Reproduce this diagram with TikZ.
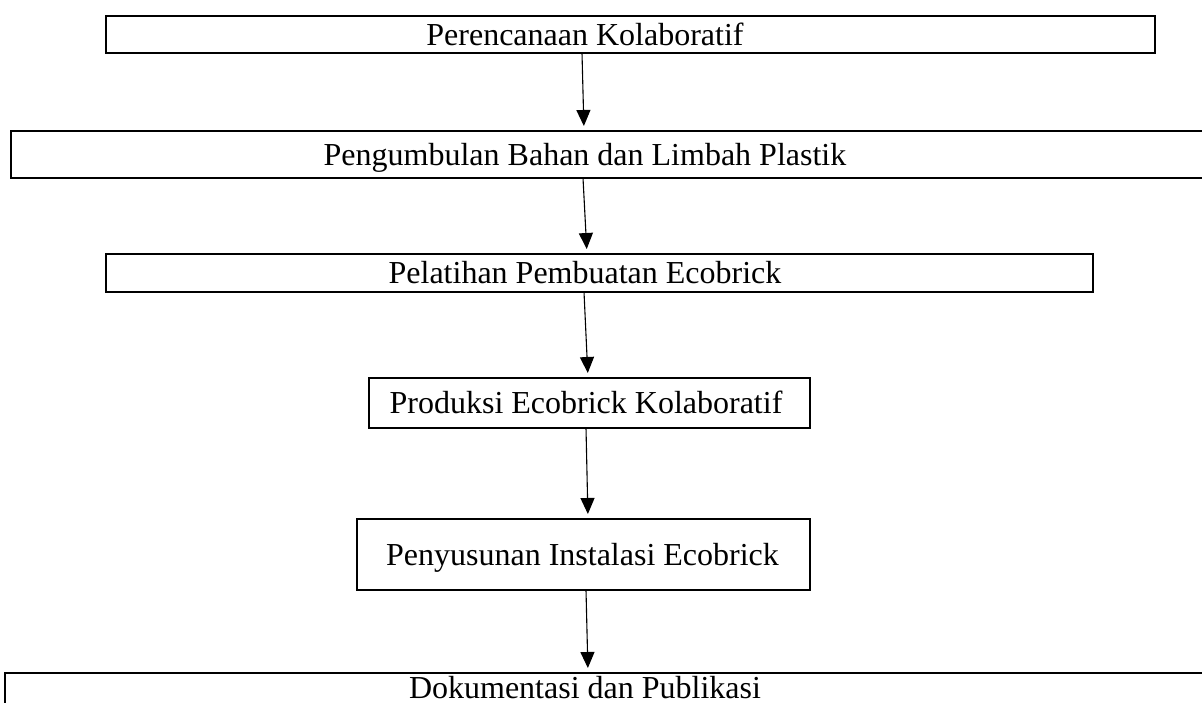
\documentclass[tikz,border=0pt]{standalone}
\usepackage{fontspec}
\setmainfont{Liberation Serif}
\usetikzlibrary{arrows.meta,calc}
\begin{document}
\begin{tikzpicture}[x=1pt,y=-1pt,
  thickbox/.style={draw,line width=2.8pt,inner sep=0pt,outer sep=0pt},
  thinbox/.style={draw,line width=1.4pt,inner sep=0pt,outer sep=0pt},
  lbl/.style={inner sep=0pt,anchor=base,font=\fontsize{32}{38}\selectfont},
  arr/.style={line width=1.1pt,-{Triangle[length=16pt,width=14pt]},shorten >=5pt}]
\useasboundingbox (0,0) rectangle (1202,702);
\fill[white] (0,0) rectangle (1202,702);
% boxes
\node[thickbox,minimum width=1049pt,minimum height=37pt] (b1) at (630.5,34.5) {};
\node[thickbox,minimum width=1199pt,minimum height=47pt] (b2) at (610.5,154.5) {};
\node[thickbox,minimum width=987pt,minimum height=38pt] (b3) at (599.5,273) {};
\node[thinbox,minimum width=441pt,minimum height=50pt] (b4) at (589.5,403) {};
\node[thinbox,minimum width=453pt,minimum height=71pt] (b5) at (583.5,554.5) {};
\node[thickbox,minimum width=1205pt,minimum height=60pt] (b6) at (607.5,703) {};
% texts
\node[lbl] (t1) at (585,45) {Perencanaan Kolaboratif};
\node[lbl] (t2) at (585,165) {Pengumbulan Bahan dan Limbah Plastik};
\node[lbl] (t3) at (585,283.5) {Pelatihan Pembuatan Ecobrick};
\node[lbl] (t4) at (586,413.5) {Produksi Ecobrick Kolaboratif};
\node[lbl] (t5) at (582.5,565) {Penyusunan Instalasi Ecobrick};
\node[lbl] (t6) at (585,698) {Dokumentasi dan Publikasi};
% arrows
\draw[arr] ([xshift=-48.5pt]b1.south) -- ([xshift=-26.5pt]b2.north);
\draw[arr] ([xshift=-27.5pt]b2.south) -- ([xshift=-12.5pt]b3.north);
\draw[arr] ([xshift=-15.5pt]b3.south) -- ([xshift=-1.5pt]b4.north);
\draw[arr] ([xshift=-3.5pt]b4.south) -- ([xshift=4.5pt]b5.north);
\draw[arr] ([xshift=2.5pt]b5.south) -- ([xshift=-19.5pt]b6.north);
\end{tikzpicture}
\end{document}
